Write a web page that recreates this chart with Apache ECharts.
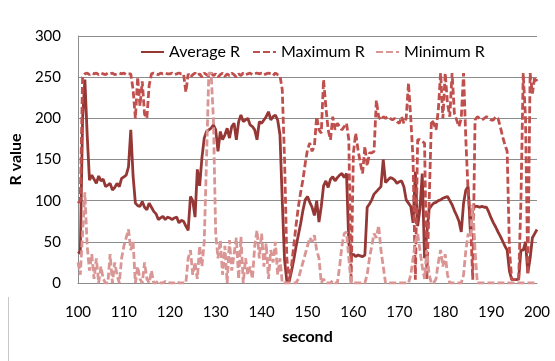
<!DOCTYPE html>
<html><head><meta charset="utf-8">
<script src="https://cdn.jsdelivr.net/npm/echarts@6/dist/echarts.min.js"></script>
<style>html,body{margin:0;padding:0;background:#fff}#c{width:555px;height:361px}</style>
</head><body><div id="c"></div>
<script>
// sample times (seconds)
const seconds = [
100,100.5,101,101.5,102,102.5,103,103.5,104,104.5,
105,105.5,106,106.5,107,107.5,108,108.5,109,109.5,
110,110.5,111,111.5,112,112.5,113,113.5,114,114.5,
115,115.5,116,116.5,117,117.5,118,118.5,119,119.5,
120,120.5,121,121.5,122,122.5,123,123.5,124,124.5,
125,125.5,126,126.5,127,127.5,128,128.5,129,129.5,
130,130.5,131,131.5,132,132.5,133,133.5,134,134.5,
135,135.5,136,136.5,137,137.5,138,138.5,139,139.5,
140,140.5,141,141.5,142,142.5,143,143.5,144,144.5,
145,145.5,146,146.5,147,147.5,148,148.5,149,149.5,
150,150.5,151,151.5,152,152.5,153,153.5,154,154.5,
155,155.5,156,156.5,157,157.5,158,158.5,159,159.5,
160,160.5,161,161.5,162,162.5,163,163.5,164,164.5,
165,165.5,166,166.5,167,167.5,168,168.5,169,169.5,
170,170.5,171,171.5,172,172.5,173,173.5,174,174.5,
175,175.5,176,176.5,177,177.5,178,178.5,179,179.5,
180,180.5,181,181.5,182,182.5,183,183.5,184,184.5,
185,185.5,186,186.5,187,187.5,188,188.5,189,189.5,
190,190.5,191,191.5,192,192.5,193,193.5,194,194.5,
195,195.5,196,196.5,197,197.5,198,198.5,199,199.5,
200];

const avgR = [
38,36,200,247,180,125,131,126,121,130,
124,126,117,119,121,113,116,121,117,127,
129,131,141,186,130,97,94,93,99,92,
89,97,92,87,84,77,79,81,77,80,
79,77,79,80,73,76,75,69,64,105,
100,80,138,118,152,176,184,186,188,192,
186,160,184,174,180,188,176,190,194,174,
196,204,196,198,200,192,190,186,174,196,
194,198,202,208,198,202,204,198,180,100,
28,2,2,14,28,44,58,72,88,101,
105,98,92,82,100,74,93,118,124,116,
126,129,124,128,131,133,128,133,48,33,
35,32,34,33,32,34,92,96,101,108,
111,114,117,150,122,125,128,127,125,121,
123,124,117,101,97,93,73,135,69,90,
133,30,60,90,94,97,98,100,101,103,
104,105,100,95,88,82,75,62,97,113,
117,60,90,93,93,92,93,92,92,86,
79,73,68,62,57,51,45,40,14,4,
4,4,5,40,40,50,12,30,55,60,
65];

const maxR = [
97,100,250,254,255,253,255,254,255,253,
255,254,253,255,254,255,253,254,255,254,
255,253,254,254,235,200,250,215,245,205,
200,240,254,255,254,253,255,254,255,254,
254,255,253,254,255,254,254,232,254,250,
253,255,252,254,250,255,253,251,255,252,
254,250,253,255,251,254,252,255,253,250,
254,252,255,253,254,255,253,254,255,254,
255,253,254,255,254,252,255,253,252,235,
150,30,2,20,45,70,92,110,125,145,
162,170,160,166,202,186,182,247,214,186,
174,202,186,194,190,186,190,194,174,0,
158,182,162,146,133,166,142,158,158,160,
222,202,198,202,200,202,200,198,200,196,
194,202,194,200,243,200,150,4,174,174,
172,170,4,97,198,194,186,210,255,200,
255,218,202,255,206,198,190,200,255,174,
110,77,4,198,202,200,198,200,202,200,
198,198,202,200,190,178,168,160,40,4,
4,4,4,100,255,200,10,255,230,250,
245];

const minR = [
25,10,60,110,45,15,35,5,30,0,
20,5,0,0,35,0,25,10,0,30,
45,55,65,40,50,0,20,5,0,25,
5,0,15,0,0,3,0,0,2,0,
0,0,0,2,0,0,0,0,30,40,
10,25,5,45,20,50,150,255,255,200,
60,30,52,10,45,0,52,15,35,55,
5,56,0,30,10,20,5,45,64,30,
60,20,48,5,40,25,50,10,30,0,
0,0,0,0,0,0,5,15,25,35,
45,55,50,58,40,30,0,5,0,0,
0,3,0,0,20,45,60,62,30,0,
0,0,0,0,0,0,10,30,45,60,
55,70,40,20,0,0,0,0,0,0,
0,0,0,0,0,10,30,50,60,40,
20,5,40,10,0,0,5,25,40,20,
35,10,0,0,0,0,0,0,10,40,
60,55,95,40,0,0,0,0,0,0,
0,0,0,0,0,0,0,0,0,0,
0,0,0,0,0,0,0,0,0,0,
0];

const seriesNames = ['Average R','Maximum R','Minimum R'];

const FONT = 'Lato';
const pairs = arr => seconds.map((t, i) => [t, arr[i]]);
const chart = echarts.init(document.getElementById('c'), null, {renderer:'canvas'});
const legendText = {fontFamily: FONT, fontSize: 16, color: '#000'};
const mkLegend = (name, left) => ({
  data: [name], left: left, top: 44, itemWidth: 23, itemHeight: 12,
  itemGap: 0, padding: 0, textStyle: legendText,
  itemStyle: {opacity: 0}
});
chart.setOption({
  animation: false,
  backgroundColor: '#fff',
  grid: {left: 75, right: 18, top: 36, bottom: 78},
  xAxis: {
    type: 'value', min: 100, max: 200, interval: 10,
    axisLine: {lineStyle: {color: '#8c8c8c', width: 1}},
    axisTick: {show: false}, splitLine: {show: false},
    axisLabel: {color: '#000', fontFamily: FONT, fontSize: 15, margin: 22},
    name: 'second', nameLocation: 'middle', nameGap: 46,
    nameTextStyle: {fontFamily: FONT, fontWeight: 'bold', fontSize: 16, color: '#000'}
  },
  yAxis: {
    type: 'value', min: 0, max: 300, interval: 50,
    axisLine: {show: true, lineStyle: {color: '#8c8c8c', width: 1}},
    axisTick: {show: false},
    splitLine: {lineStyle: {color: '#8c8c8c', width: 1}},
    axisLabel: {color: '#000', fontFamily: FONT, fontSize: 15, margin: 17},
    name: 'R value', nameLocation: 'middle', nameGap: 39, nameRotate: 90,
    nameTextStyle: {fontFamily: FONT, fontWeight: 'bold', fontSize: 16, color: '#000'}
  },
  legend: [mkLegend(seriesNames[0], 140), mkLegend(seriesNames[1], 252), mkLegend(seriesNames[2], 375)],
  graphic: [{
    type: 'line', shape: {x1: 8.5, y1: 297, x2: 8.5, y2: 361},
    style: {stroke: '#c8c8c8', lineWidth: 1}, silent: true
  }],
  series: [
    {name: seriesNames[0], type: 'line', data: pairs(avgR), symbol: 'none', showSymbol: false,
     lineStyle: {color: '#953735', width: 2.8}, itemStyle: {color: '#953735'}},
    {name: seriesNames[1], type: 'line', data: pairs(maxR), symbol: 'none', showSymbol: false,
     lineStyle: {color: '#C0504D', width: 2.8, type: [7, 3]}, itemStyle: {color: '#C0504D'}},
    {name: seriesNames[2], type: 'line', data: pairs(minR), symbol: 'none', showSymbol: false,
     lineStyle: {color: '#D99694', width: 2.8, type: [7, 3]}, itemStyle: {color: '#D99694'}}
  ]
});
</script></body></html>
